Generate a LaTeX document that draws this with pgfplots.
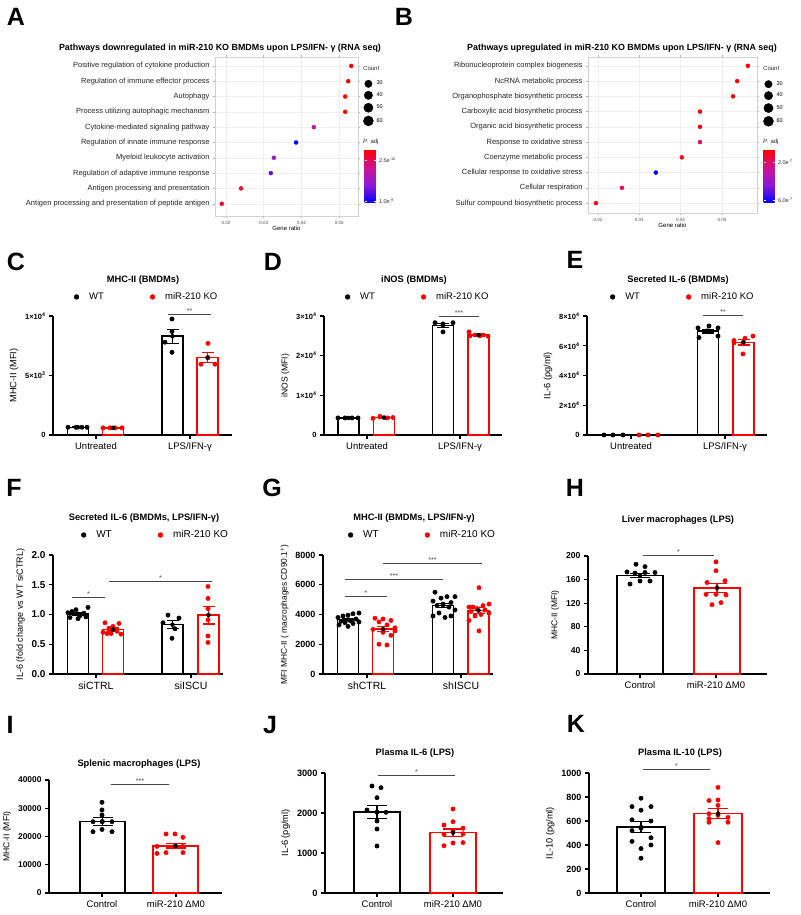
\documentclass[border=0pt]{standalone}
\usepackage{pgfplots}
\pgfplotsset{compat=1.18}
\usepackage{fontspec}
\setmainfont{Liberation Sans}
\newcommand{\fs}[1]{\fontsize{#1}{#1}\selectfont}
\definecolor{kored}{RGB}{255,0,0}
\definecolor{siggray}{RGB}{70,70,70}
\tikzset{
 sig/.style={siggray, line width=0.9pt},
 star/.style={font=\fs{7}, text=siggray, inner sep=0.5pt},
}
\pgfplotsset{
 gp/.style={scale only axis, anchor=south west, xmin=0, ymin=0, clip=false,
   axis x line*=bottom, axis y line*=left, tick align=outside,
   axis line style={line width=1.3pt, -},
   major tick length=4pt,
   tick style={line width=1.2pt, black},
   xticklabel style={font=\fs{9.5}},
   yticklabel style={font=\fs{8.5}\bfseries},
   ylabel style={font=\fs{9}},
   scaled y ticks=false,
   /pgf/number format/assume math mode=true,
   /pgf/number format/1000 sep={},
   legend columns=2,
   legend style={draw=none, fill=none, anchor=west, inner sep=0pt, font=\fs{9.5},
     nodes={inner sep=1pt},
     /tikz/every odd column/.append style={column sep=9pt},
     /tikz/every even column/.append style={column sep=45pt}},
 },
 wtb/.style={ybar, bar shift=0pt, bar width=#1, draw=black, fill=white, line width=1.5pt, forget plot},
 kob/.style={ybar, bar shift=0pt, bar width=#1, draw=kored, fill=white, line width=1.5pt, forget plot},
 wtp/.style={only marks, mark=*, mark size=2.2pt, black, forget plot},
 kop/.style={only marks, mark=*, mark size=2.2pt, kored, mark options={fill=kored, draw=kored}, forget plot},
 gperr/.style 2 args={only marks, mark=none, forget plot, error bars/.cd, y dir=both, y explicit,
   error bar style={line width=1.2pt, draw=#1},
   error mark options={rotate=90, line width=1.2pt, draw=#1, mark size=#2}},
 wtl/.style={legend image code/.code={\fill[black] (0pt,0pt) circle (2.4pt);}},
 kol/.style={legend image code/.code={\fill[kored] (0pt,0pt) circle (2.4pt);}},
 dotplot/.style={scale only axis, anchor=south west, y dir=reverse, clip=false,
   ytick={1,...,10}, yticklabel style={font=\fs{7.5}, text=black!85},
   scaled x ticks=false,
   xtick={0.02,0.03,0.04,0.05}, xticklabels={0.02,0.03,0.04,0.05},
   xticklabel style={font=\fs{4.5}, text=black!70},
   tick align=outside, major tick length=2pt, tick style={gray!60, line width=0.4pt},
   grid=major, grid style={gray!12, line width=0.4pt},
   axis line style={gray!35, line width=0.6pt},
   xlabel={Gene ratio}, xlabel style={font=\fs{6}, yshift=5pt},
   colormap={pb}{rgb255=(0,0,255) rgb255=(140,25,215) rgb255=(205,20,150) rgb255=(255,0,0)},
   point meta min=0, point meta max=1,
   legend columns=1,
   legend style={draw=none, fill=none, anchor=north west, inner sep=0pt, font=\fs{5.5},
     nodes={inner sep=1pt}, row sep=3.2pt,
     /tikz/every odd column/.append style={column sep=2pt}},
 },
 szdot/.style={legend image code/.code={\fill[black] (0pt,0pt) circle (#1);}},
}
\begin{document}
\begin{tikzpicture}
\path[use as bounding box, fill=white] (0,0) rectangle (800pt,915pt);

% ---------------- A ----------------
\begin{axis}[dotplot, at={(215pt,699pt)}, width=143pt, height=159pt,
  xmin=0.0171, xmax=0.0550, ymin=0.42, ymax=10.8,
  yticklabels={Positive regulation of cytokine production, Regulation of immune effector process, Autophagy, Process utilizing autophagic mechanism, Cytokine-mediated signaling pathway, Regulation of innate immune response, Myeloid leukocyte activation, Regulation of adaptive immune response, Antigen processing and presentation, Antigen processing and presentation of peptide antigen},
  colorbar,
  colorbar style={at={(parent axis.south east)}, anchor=south west, xshift=-2pt, yshift=13pt,
    scale only axis, width=11pt, height=53pt, ytick={0.04,0.81},
    yticklabels={1.0e\textsuperscript{-9}, 2.5e\textsuperscript{-10}},
    yticklabel style={font=\fs{5.5}, text=black!80},
    axis line style={draw=none}, major tick length=2pt, tick style={draw=white}},
  legend style={at={(1.035,0.857)}}]
\addplot[scatter, only marks, mark=*, forget plot, point meta=explicit,
  visualization depends on={\thisrow{s} \as \msz},
  scatter/@pre marker code/.append style={/tikz/mark size=\msz},
  scatter/use mapped color={draw=mapped color, fill=mapped color}]
  table[x=x, y=y, meta=c] {
x y c s
0.0532 1 1.00 2.7
0.0524 2 0.98 2.6
0.0516 3 1.00 2.6
0.0516 4 1.00 2.6
0.0433 5 0.62 2.3
0.0386 6 0.00 2.2
0.0327 7 0.40 1.9
0.0319 8 0.22 1.9
0.0240 9 0.88 1.4
0.0189 10 0.90 1.0
};
\addlegendimage{szdot=3.7pt}\addlegendentry{30}
\addlegendimage{szdot=4.2pt}\addlegendentry{40}
\addlegendimage{szdot=4.6pt}\addlegendentry{50}
\addlegendimage{szdot=5pt}\addlegendentry{60}
\end{axis}

% ---------------- B ----------------
\begin{axis}[dotplot, at={(588pt,702pt)}, width=169pt, height=156pt,
  xmin=0.01758, xmax=0.0585, ymin=0.42, ymax=10.65,
  yticklabels={Ribonucleoprotein complex biogenesis, NcRNA metabolic process, Organophosphate biosynthetic process, Carboxylic acid biosynthetic process, Organic acid biosynthetic process, Response to oxidative stress, Coenzyme metabolic process, Cellular response to oxidative stress, Cellular respiration, Sulfur compound biosynthetic process},
  colorbar,
  colorbar style={at={(parent axis.south east)}, anchor=south west, xshift=-2pt, yshift=10pt,
    scale only axis, width=11pt, height=53pt, ytick={0.06,0.77},
    yticklabels={6.0e\textsuperscript{-7}, 2.0e\textsuperscript{-7}},
    yticklabel style={font=\fs{5.5}, text=black!80},
    axis line style={draw=none}, major tick length=2pt, tick style={draw=white}},
  legend style={at={(1.036,0.852)}}]
\addplot[scatter, only marks, mark=*, forget plot, point meta=explicit,
  visualization depends on={\thisrow{s} \as \msz},
  scatter/@pre marker code/.append style={/tikz/mark size=\msz},
  scatter/use mapped color={draw=mapped color, fill=mapped color}]
  table[x=x, y=y, meta=c] {
x y c s
0.0563 1 1.00 2.6
0.0537 2 1.00 2.6
0.0527 3 1.00 2.6
0.0447 4 0.98 2.3
0.0447 5 0.98 2.3
0.0447 6 0.80 2.3
0.0403 7 0.95 2.1
0.0340 8 0.00 1.9
0.0258 9 0.82 1.5
0.0195 10 0.95 1.0
};
\addlegendimage{szdot=3.7pt}\addlegendentry{30}
\addlegendimage{szdot=4.2pt}\addlegendentry{40}
\addlegendimage{szdot=4.6pt}\addlegendentry{50}
\addlegendimage{szdot=5pt}\addlegendentry{60}
\end{axis}

% ---------------- C ----------------
\begin{axis}[gp, at={(53pt,480pt)}, width=179pt, height=119pt, xmax=179, ymax=10000,
  xtick={43,137}, xticklabels={Untreated, LPS/IFN-γ},
  ytick={0,5000,10000}, yticklabels={0, 5×10\textsuperscript{3}, 1×10\textsuperscript{4}},
  yticklabel style={font=\fs{7.5}\bfseries},
  ylabel={MHC-II (MFI)}, ylabel style={font=\fs{9.2}},
  legend style={at={(0.116,1.16)}}]
\addplot[wtb=21pt] coordinates {(25,650) (119.5,8300)};
\addplot[kob=21pt] coordinates {(60,600) (154.5,6500)};
\addplot[wtp] coordinates {(15,650)(23,650)(29,650)(34,650)(119,9750)(119,8700)(112,7800)(119,6950)};
\addplot[kop] coordinates {(50,600)(57,600)(62,600)(69,600)(155,7700)(155,6500)(148,5950)(162,5950)};
\addplot[gperr={black}{6pt}] coordinates {(25,650) +- (0,20) (119.5,8300) +- (0,590)};
\addplot[gperr={kored}{6pt}] coordinates {(60,600) +- (0,20) (154.5,6500) +- (0,430)};
\draw[sig] (axis cs:115,10168) -- (axis cs:158,10168) node[midway, above, star] {**};
\addlegendimage{wtl}\addlegendentry{WT}
\addlegendimage{kol}\addlegendentry{miR-210 KO}
\end{axis}

% ---------------- D ----------------
\begin{axis}[gp, at={(324pt,480pt)}, width=178pt, height=119pt, xmax=178, ymax=30000,
  xtick={43,136}, xticklabels={Untreated, LPS/IFN-γ},
  ytick={0,10000,20000,30000}, yticklabels={0, 1×10\textsuperscript{4}, 2×10\textsuperscript{4}, 3×10\textsuperscript{4}},
  yticklabel style={font=\fs{7.5}\bfseries},
  ylabel={iNOS (MFI)}, ylabel style={font=\fs{8.6}},
  legend style={at={(0.117,1.16)}}]
\addplot[wtb=21pt] coordinates {(24.5,4300) (119,27650)};
\addplot[kob=21pt] coordinates {(60,4400) (154.5,25200)};
\addplot[wtp] coordinates {(14,4300)(21,4300)(28,4300)(34,4300)(111,28300)(119,28000)(129,28300)(119,26000)};
\addplot[kop] coordinates {(49,4200)(56,4700)(63,4300)(69,4400)(145,26000)(146,25000)(156,25000)(164,24900)};
\addplot[gperr={black}{6pt}] coordinates {(24.5,4300) +- (0,80) (119,27650) +- (0,550)};
\addplot[gperr={kored}{6pt}] coordinates {(60,4400) +- (0,120) (154.5,25200) +- (0,250)};
\draw[sig] (axis cs:115,30000) -- (axis cs:155,30000) node[midway, above, star] {***};
\addlegendimage{wtl}\addlegendentry{WT}
\addlegendimage{kol}\addlegendentry{miR-210 KO}
\end{axis}

% ---------------- E ----------------
\begin{axis}[gp, at={(587pt,480pt)}, width=180pt, height=119pt, xmax=180, ymax=80000,
  xtick={44,138}, xticklabels={Untreated, LPS/IFN-γ},
  ytick={0,20000,40000,60000,80000}, yticklabels={0, 2×10\textsuperscript{4}, 4×10\textsuperscript{4}, 6×10\textsuperscript{4}, 8×10\textsuperscript{4}},
  yticklabel style={font=\fs{7.5}\bfseries},
  ylabel={IL-6 (pg/ml)}, ylabel style={font=\fs{9.2}},
  legend style={at={(0.127,1.16)}}]
\addplot[wtb=21pt] coordinates {(121,69883)};
\addplot[kob=21pt] coordinates {(156.5,62250)};
\addplot[wtp] coordinates {(17,0)(26,0)(36,0)(111,72000)(122,73300)(131,72000)(112,65500)(131,66500)(120,70000)};
\addplot[kop] coordinates {(52,0)(61,0)(71,0)(147,63500)(158,65000)(166,66500)(147,62000)(156,62000)(156,54500)};
\addplot[gperr={black}{6pt}] coordinates {(121,69883) +- (0,1300)};
\addplot[gperr={kored}{6pt}] coordinates {(156.5,62250) +- (0,1700)};
\draw[sig] (axis cs:116,80672) -- (axis cs:156,80672) node[midway, above, star] {**};
\addlegendimage{wtl}\addlegendentry{WT}
\addlegendimage{kol}\addlegendentry{miR-210 KO}
\end{axis}

% ---------------- F ----------------
\begin{axis}[gp, at={(53pt,241pt)}, width=170pt, height=119pt, xmax=170, ymax=2,
  xtick={43,138}, xticklabels={siCTRL, siISCU}, xticklabel style={font=\fs{10.5}},
  ytick={0,0.5,1,1.5,2},
  yticklabel style={font=\fs{10}\bfseries, /pgf/number format/.cd, fixed, fixed zerofill, precision=1},
  ylabel={IL-6 (fold change vs WT siCTRL)}, ylabel style={font=\fs{9}},
  legend style={at={(0.164,1.168)}, font=\fs{10}}]
\addplot[wtb=21pt] coordinates {(25,1.01) (119.5,0.83)};
\addplot[kob=21pt] coordinates {(60,0.748) (155.5,0.99)};
\addplot[wtp] coordinates {(15,1.03)(19,1.05)(23,1.08)(35,1.12)(31,1.02)(27,0.98)(17,0.95)(25,0.93)(33,0.96)(115,0.99)(126,0.94)(110,0.86)(122,0.76)(119,0.60)};
\addplot[kop] coordinates {(52,0.86)(66,0.85)(60,0.80)(56,0.77)(64,0.72)(50,0.70)(58,0.68)(68,0.67)(54,0.68)(155,1.47)(155,1.27)(155,1.10)(155,0.91)(155,0.64)(155,0.53)};
\addplot[gperr={black}{6pt}] coordinates {(25,1.01) +- (0,0.02) (119.5,0.83) +- (0,0.065)};
\addplot[gperr={kored}{6pt}] coordinates {(60,0.748) +- (0,0.025) (155.5,0.99) +- (0,0.15)};
\draw[sig] (axis cs:19,1.294) -- (axis cs:52,1.294) node[midway, above, star] {*};
\draw[sig] (axis cs:56,1.563) -- (axis cs:159,1.563) node[midway, above, star] {*};
\addlegendimage{wtl}\addlegendentry{WT}
\addlegendimage{kol}\addlegendentry{miR-210 KO}
\end{axis}

% ---------------- G ----------------
\begin{axis}[gp, at={(323pt,241pt)}, width=170pt, height=119pt, xmax=170, ymax=8000,
  xtick={44,138}, xticklabels={shCTRL, shISCU}, xticklabel style={font=\fs{10.5}},
  ytick={0,2000,4000,6000,8000}, yticklabel style={font=\fs{9}\bfseries},
  ylabel={MFI MHC-II ( macrophages CD90.1\textsuperscript{+})}, ylabel style={font=\fs{8.4}},
  legend style={at={(0.146,1.168)}, font=\fs{10}}]
\addplot[wtb=21pt] coordinates {(25,3662) (120,4607)};
\addplot[kob=21pt] coordinates {(60,3017) (155.5,4269)};
\addplot[wtp] coordinates {(36,4100)(30,4050)(25,3950)(20,3900)(15,3800)(33,3700)(27,3600)(18,3550)(36,3500)(22,3450)(30,3400)(16,3300)(25,3200)
 (112,5500)(124,5200)(132,5200)(118,5100)(110,4900)(128,4800)(120,4700)(114,4600)(126,4500)(132,4300)(116,4100)(110,3900)(128,3900)(122,3800)};
\addplot[kop] coordinates {(52,3750)(60,3700)(68,3600)(56,3500)(64,3300)(72,3100)(50,3000)(60,2800)(68,2600)(56,2000)(64,1950)(72,2900)
 (156,5800)(166,4700)(160,4600)(150,4500)(146,4500)(154,4400)(162,4300)(148,4200)(166,4100)(158,4000)(152,3900)(146,3600)(156,2900)};
\addplot[gperr={black}{6pt}] coordinates {(25,3662) +- (0,90) (120,4607) +- (0,150)};
\addplot[gperr={kored}{6pt}] coordinates {(60,3017) +- (0,180) (155.5,4269) +- (0,190)};
\draw[sig] (axis cs:22,5244) -- (axis cs:64,5244) node[midway, above, star] {*};
\draw[sig] (axis cs:22,6387) -- (axis cs:120,6387) node[midway, above, star] {***};
\draw[sig] (axis cs:60,7462) -- (axis cs:159,7462) node[midway, above, star] {***};
\addlegendimage{wtl}\addlegendentry{WT}
\addlegendimage{kol}\addlegendentry{miR-210 KO}
\end{axis}

% ---------------- H ----------------
\begin{axis}[gp, at={(588pt,241pt)}, width=179pt, height=118pt, xmax=179, ymax=200,
  xtick={52,128}, xticklabels={Control, miR-210 ΔM0},
  ytick={0,40,80,120,160,200}, yticklabel style={font=\fs{8.6}\bfseries},
  ylabel={MHC-II (MFI)}, ylabel style={font=\fs{8.5}}]
\addplot[wtb=46pt] coordinates {(52,167)};
\addplot[kob=46pt] coordinates {(129,146)};
\addplot[wtp] coordinates {(48,186)(57,182)(39,173)(47,171)(57,172)(67,172)(42,152.5)(52,157.6)(62,157.6)};
\addplot[kop] coordinates {(128,190)(128,175)(119,155)(137,158)(118,135)(128,135)(138,134)(124,117.5)(133,121)};
\addplot[gperr={black}{10pt}] coordinates {(52,167) +- (0,4)};
\addplot[gperr={kored}{10pt}] coordinates {(129,146) +- (0,8)};
\draw[sig] (axis cs:55,201.7) -- (axis cs:126,201.7) node[midway, above, star] {*};
\end{axis}

% ---------------- I ----------------
\begin{axis}[gp, at={(49pt,22pt)}, width=173pt, height=113pt, xmax=173, ymax=40000,
  xtick={53,127}, xticklabels={Control, miR-210 ΔM0},
  ytick={0,10000,20000,30000,40000}, yticklabel style={font=\fs{8.4}\bfseries},
  ylabel={MHC-II (MFI)}, ylabel style={font=\fs{8.6}}]
\addplot[wtb=45pt] coordinates {(53.5,25300)};
\addplot[kob=45pt] coordinates {(126.5,16700)};
\addplot[wtp] coordinates {(53,32100)(53,29400)(53,27600)(44,25250)(53,25250)(63,25250)(44,21700)(53,22500)(63,21700)};
\addplot[kop] coordinates {(117,20900)(126,20900)(134,19700)(108,16500)(126,16500)(134,16500)(108,14000)(117,14300)(134,14300)};
\addplot[gperr={black}{10pt}] coordinates {(53.5,25300) +- (0,1300)};
\addplot[gperr={kored}{10pt}] coordinates {(126.5,16700) +- (0,800)};
\draw[sig] (axis cs:62,38584) -- (axis cs:120,38584) node[midway, above, star] {***};
\end{axis}

% ---------------- J ----------------
\begin{axis}[gp, at={(325pt,22pt)}, width=178pt, height=120pt, xmax=178, ymax=3000,
  xtick={52,128}, xticklabels={Control, miR-210 ΔM0},
  ytick={0,1000,2000,3000}, yticklabel style={font=\fs{9.2}\bfseries},
  ylabel={IL-6 (pg/ml)}, ylabel style={font=\fs{9.2}}]
\addplot[wtb=46pt] coordinates {(52,2020)};
\addplot[kob=46pt] coordinates {(128,1510)};
\addplot[wtp] coordinates {(47,2675)(56,2633)(52,2383)(42,2075)(52,2017)(61,2017)(52,1800)(52,1600)(52,1175)};
\addplot[kop] coordinates {(128,2100)(119,1700)(128,1780)(138,1620)(128,1550)(119,1470)(138,1480)(119,1180)(138,1260)(128,1250)};
\addplot[gperr={black}{10pt}] coordinates {(52,2020) +- (0,165)};
\addplot[gperr={kored}{10pt}] coordinates {(128,1510) +- (0,90)};
\draw[sig] (axis cs:53,2950) -- (axis cs:130,2950) node[midway, above, star] {*};
\end{axis}

% ---------------- K ----------------
\begin{axis}[gp, at={(589pt,22pt)}, width=181pt, height=120pt, xmax=181, ymax=1000,
  xtick={52,129}, xticklabels={Control, miR-210 ΔM0},
  ytick={0,200,400,600,800,1000}, yticklabel style={font=\fs{9}\bfseries},
  ylabel={IL-10 (pg/ml)}, ylabel style={font=\fs{9.2}}]
\addplot[wtb=48pt] coordinates {(52,549)};
\addplot[kob=48pt] coordinates {(129,661)};
\addplot[wtp] coordinates {(52,790)(43,720)(62,720)(52,690)(43,610)(62,600)(52,540)(43,520)(62,460)(43,430)(62,400)(52,370)(52,290)};
\addplot[kop] coordinates {(129,880)(120,770)(129,775)(129,730)(120,660)(129,650)(139,630)(120,620)(120,590)(139,590)(129,420)};
\addplot[gperr={black}{10pt}] coordinates {(52,549) +- (0,45)};
\addplot[gperr={kored}{10pt}] coordinates {(129,661) +- (0,40)};
\draw[sig] (axis cs:54,1033) -- (axis cs:121,1033) node[midway, above, star] {*};
\end{axis}

% ---------------- text: letters, titles ----------------
\begin{scope}[every node/.style={font=\fs{25}\bfseries, inner sep=0pt}]
\node at (16pt,898pt) {A};
\node at (404pt,898pt) {B};
\node at (16pt,653pt) {C};
\node at (273pt,653pt) {D};
\node at (575pt,655pt) {E};
\node at (14pt,427pt) {F};
\node at (272pt,427pt) {G};
\node at (575pt,427pt) {H};
\node at (10pt,190pt) {I};
\node at (270pt,190pt) {J};
\node at (576pt,191pt) {K};
\end{scope}
\begin{scope}[every node/.style={font=\fs{8.9}\bfseries, inner sep=0pt}]
\node at (220pt,867pt) {Pathways downregulated in miR-210 KO BMDMs upon LPS/IFN- γ (RNA seq)};
\node at (622pt,867pt) {Pathways upregulated in miR-210 KO BMDMs upon LPS/IFN- γ (RNA seq)};
\end{scope}
\begin{scope}[every node/.style={font=\fs{9.3}\bfseries, inner sep=0pt}]
\node at (143pt,635pt) {MHC-II (BMDMs)};
\node at (414pt,635pt) {iNOS (BMDMs)};
\node at (678pt,635pt) {Secreted IL-6 (BMDMs)};
\node at (144pt,397pt) {Secreted IL-6 (BMDMs, LPS/IFN-γ)};
\node at (414pt,397pt) {MHC-II (BMDMs, LPS/IFN-γ)};
\node at (678pt,395pt) {Liver macrophages (LPS)};
\node at (139pt,151pt) {Splenic macrophages (LPS)};
\node at (415pt,162pt) {Plasma IL-6 (LPS)};
\node at (680pt,162pt) {Plasma IL-10 (LPS)};
\end{scope}
\begin{scope}[every node/.style={font=\fs{6}, inner sep=0pt, anchor=west, text=black!85}]
\node at (363pt,847pt) {Count};
\node at (763pt,847pt) {Count};
\node at (363pt,773pt) {\textit{P}. adj};
\node at (763pt,773pt) {\textit{P}. adj};
\end{scope}
\end{tikzpicture}
\end{document}
